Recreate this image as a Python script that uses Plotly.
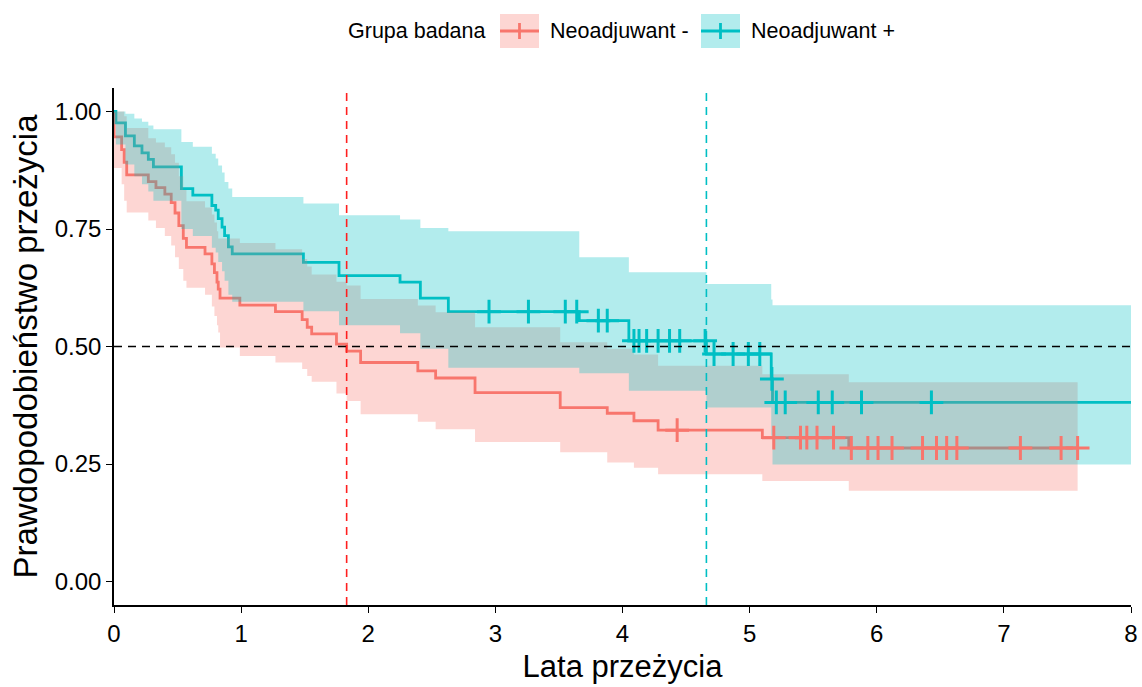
import numpy as np
import plotly.graph_objects as go

# ---- Kaplan-Meier estimates: "Neoadjuwant -" ----
neg_time = [0, 0, 0.06, 0.08, 0.10, 0.27, 0.33, 0.40, 0.45, 0.48, 0.51, 0.545, 0.57,
            0.716, 0.77, 0.79, 0.81, 0.82, 0.834, 0.99, 1.27, 1.48, 1.52, 1.555, 1.75,
            1.83, 1.94, 2.39, 2.53, 2.84, 3.51, 3.88, 4.09, 4.28, 5.10, 5.78]
neg_surv = [1.0, 0.946, 0.919, 0.892, 0.865, 0.851, 0.838, 0.824, 0.806, 0.784, 0.757,
            0.730, 0.711, 0.697, 0.676, 0.657, 0.637, 0.622, 0.603, 0.588, 0.574, 0.557,
            0.541, 0.527, 0.505, 0.490, 0.466, 0.448, 0.433, 0.402, 0.370, 0.358, 0.342,
            0.322, 0.306, 0.284]
neg_upper = [1.0, 1.0, 1.0, 0.99, 0.965, 0.943, 0.934, 0.924, 0.909, 0.891, 0.862, 0.833,
             0.809, 0.796, 0.781, 0.764, 0.745, 0.730, 0.730, 0.720, 0.707, 0.686, 0.670,
             0.653, 0.638, 0.630, 0.601, 0.587, 0.573, 0.541, 0.509, 0.495, 0.483, 0.459,
             0.441, 0.424]
neg_lower = [1.0, 0.880, 0.845, 0.810, 0.785, 0.768, 0.752, 0.735, 0.715, 0.690, 0.665,
             0.640, 0.625, 0.610, 0.585, 0.565, 0.545, 0.530, 0.498, 0.480, 0.466, 0.452,
             0.437, 0.425, 0.400, 0.384, 0.356, 0.340, 0.324, 0.297, 0.275, 0.253, 0.242,
             0.228, 0.214, 0.193]
neg_end = 7.58
neg_censor = [4.43, 5.19, 5.40, 5.45, 5.53, 5.66, 5.80, 5.93, 6.01, 6.12, 6.36, 6.47,
              6.55, 6.63, 7.13, 7.45, 7.58]

# ---- Kaplan-Meier estimates: "Neoadjuwant +" ----
pos_time = [0, 0.015, 0.09, 0.16, 0.22, 0.27, 0.31, 0.53, 0.62, 0.77, 0.80, 0.82, 0.85,
            0.87, 0.90, 0.93, 1.49, 1.77, 2.25, 2.41, 2.63, 3.66, 4.05, 4.66, 5.17, 5.18]
pos_surv = [1.0, 0.976, 0.948, 0.927, 0.912, 0.898, 0.882, 0.836, 0.822, 0.800, 0.790,
            0.772, 0.754, 0.736, 0.712, 0.697, 0.679, 0.651, 0.637, 0.603, 0.574, 0.555,
            0.512, 0.484, 0.431, 0.381]
pos_upper = [1.0, 1.0, 0.995, 0.985, 0.978, 0.970, 0.962, 0.935, 0.925, 0.910, 0.900,
             0.885, 0.870, 0.850, 0.836, 0.818, 0.804, 0.779, 0.770, 0.752, 0.745, 0.690,
             0.658, 0.633, 0.600, 0.588]
pos_lower = [1.0, 0.930, 0.887, 0.862, 0.845, 0.830, 0.810, 0.750, 0.735, 0.710, 0.700,
             0.680, 0.660, 0.640, 0.610, 0.595, 0.575, 0.545, 0.528, 0.495, 0.455, 0.443,
             0.406, 0.370, 0.310, 0.249]
pos_end = 8.0
pos_censor = [2.95, 3.26, 3.55, 3.64, 3.81, 3.88, 4.09, 4.13, 4.19, 4.28, 4.37, 4.45,
              4.65, 4.72, 4.87, 4.99, 5.08, 5.175, 5.21, 5.28, 5.54, 5.65, 5.88, 6.43]

x_ticks = [0, 1, 2, 3, 4, 5, 6, 7, 8]
y_ticks = [0.0, 0.25, 0.50, 0.75, 1.0]
y_ticktext = ["0.00", "0.25", "0.50", "0.75", "1.00"]

group_names = ["Neoadjuwant -", "Neoadjuwant +"]
legend_title = "Grupa badana"

RED = "#F8766D"
TEAL = "#00BFC4"
RED_FILL = "rgba(248,118,109,0.3)"
TEAL_FILL = "rgba(0,191,196,0.3)"
MEDIAN_COLORS = ["#FF1F1F", "#00BFC4"]
FONT = "Liberation Sans, Arial, sans-serif"


def step_xy(times, vals, end):
    xs, ys = [], []
    for i, (t, v) in enumerate(zip(times, vals)):
        t_next = times[i + 1] if i + 1 < len(times) else end
        xs += [t, t_next]
        ys += [v, v]
    return xs, ys


def band_xy(times, upper, lower, end):
    xu, yu = step_xy(times, upper, end)
    xl, yl = step_xy(times, lower, end)
    return xu + xl[::-1], yu + yl[::-1]


def surv_at(times, surv, ts):
    idx = np.searchsorted(np.asarray(times), np.asarray(ts), side="right") - 1
    return [surv[i] for i in idx]


def median_time(times, surv):
    for t, s in zip(times, surv):
        if s <= 0.5:
            return t
    return None


groups = [
    dict(name=group_names[0], t=neg_time, s=neg_surv, up=neg_upper, lo=neg_lower,
         end=neg_end, cens=neg_censor, color=RED, fill=RED_FILL, mcolor=MEDIAN_COLORS[0]),
    dict(name=group_names[1], t=pos_time, s=pos_surv, up=pos_upper, lo=pos_lower,
         end=pos_end, cens=pos_censor, color=TEAL, fill=TEAL_FILL, mcolor=MEDIAN_COLORS[1]),
]

fig = go.Figure()

# survival curves
for g in groups:
    x, y = step_xy(g["t"], g["s"], g["end"])
    fig.add_trace(go.Scatter(x=x, y=y, mode="lines", line=dict(color=g["color"], width=2.8),
                             showlegend=False, hoverinfo="skip", cliponaxis=False))

# confidence bands drawn over the curves
for g in groups:
    x, y = band_xy(g["t"], g["up"], g["lo"], g["end"])
    fig.add_trace(go.Scatter(x=x, y=y, mode="lines", fill="toself", fillcolor=g["fill"],
                             line=dict(width=0), showlegend=False, hoverinfo="skip"))

# censoring marks
for g in groups:
    fig.add_trace(go.Scatter(x=g["cens"], y=surv_at(g["t"], g["s"], g["cens"]),
                             mode="markers",
                             marker=dict(symbol="cross-thin", size=17,
                                         line=dict(color=g["color"], width=3)),
                             showlegend=False, hoverinfo="skip"))

# median reference lines
fig.add_shape(type="line", x0=0, x1=8, y0=0.5, y1=0.5, xref="x", yref="y",
              line=dict(color="black", width=1.6, dash="8px,6px"), layer="above")
for g in groups:
    m = median_time(g["t"], g["s"])
    fig.add_shape(type="line", x0=m, x1=m, y0=0, y1=1, xref="x", yref="paper",
                  line=dict(color=g["mcolor"], width=1.6, dash="8px,6px"), layer="above")

# ---- legend drawn above the panel ----
L, R, T, B = 114, 11, 88, 82
W, H = 1142, 687
PW, PH = W - L - R, H - T - B


def xp(px):
    return (px - L) / PW


def yp(py):
    return (H - B - py) / PH


leg_y = 31
leg_font = dict(family=FONT, size=21.5, color="black")
fig.add_annotation(text=legend_title, x=xp(346), y=yp(leg_y), xref="paper", yref="paper",
                   xanchor="left", yanchor="middle", showarrow=False, font=leg_font)
key_left = [500, 701]
text_left = [548, 749]
for g, kx, tx in zip(groups, key_left, text_left):
    fig.add_shape(type="rect", x0=xp(kx), x1=xp(kx + 39), y0=yp(48), y1=yp(14),
                  xref="paper", yref="paper", fillcolor=g["fill"], line=dict(width=0))
    fig.add_shape(type="line", x0=xp(kx), x1=xp(kx + 39), y0=yp(leg_y), y1=yp(leg_y),
                  xref="paper", yref="paper", line=dict(color=g["color"], width=2.8))
    fig.add_shape(type="line", x0=xp(kx + 19.5), x1=xp(kx + 19.5), y0=yp(leg_y - 8),
                  y1=yp(leg_y + 8), xref="paper", yref="paper",
                  line=dict(color=g["color"], width=2.8))
    fig.add_annotation(text=g["name"], x=xp(tx), y=yp(leg_y), xref="paper", yref="paper",
                       xanchor="left", yanchor="middle", showarrow=False, font=leg_font)

fig.update_layout(
    width=W, height=H,
    margin=dict(l=L, r=R, t=T, b=B, autoexpand=False),
    paper_bgcolor="white", plot_bgcolor="white",
    showlegend=False,
    font=dict(family=FONT, color="black"),
    xaxis=dict(range=[0, 8], tickvals=x_ticks, ticks="outside", ticklen=6, tickwidth=1.3,
               tickcolor="black", showline=True, linecolor="black", linewidth=1.5,
               showgrid=False, zeroline=False, tickfont=dict(size=24, color="black"),
               automargin=False,
               title=dict(text="Lata przeżycia", font=dict(size=31, color="black"),
                          standoff=10)),
    yaxis=dict(range=[-0.05, 1.05], tickvals=y_ticks, ticktext=y_ticktext, ticks="outside",
               ticklen=6, tickwidth=1.3, tickcolor="black", showline=True,
               linecolor="black", linewidth=1.5, showgrid=False, zeroline=False,
               tickfont=dict(size=24, color="black"), automargin=False,
               title=dict(text="Prawdopodobieństwo przeżycia",
                          font=dict(size=33, color="black"), standoff=7)),
)

fig.write_html("out.html")
